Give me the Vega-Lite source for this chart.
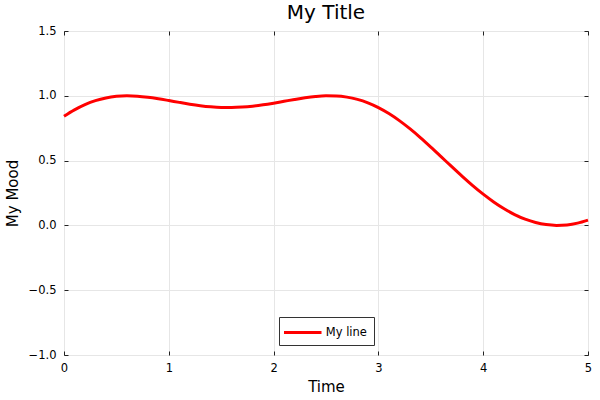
{
  "$schema": "https://vega.github.io/schema/vega-lite/v6.json",
  "width": 524,
  "height": 324,
  "autosize": {"type": "none"},
  "padding": {"left": 64, "top": 31, "right": 12, "bottom": 45},
  "background": "white",
  "title": {
    "text": "My Title",
    "font": "DejaVu Sans",
    "fontSize": 20,
    "fontWeight": "normal",
    "color": "#000",
    "anchor": "middle",
    "frame": "group",
    "offset": 2
  },
  "config": {
    "view": {"stroke": "#222", "strokeWidth": 1},
    "axis": {
      "domain": false,
      "tickSize": -4,
      "tickColor": "#222",
      "gridColor": "#e6e6e6",
      "labelFlush": false,
      "labelFont": "DejaVu Sans",
      "labelFontSize": 11.5,
      "labelColor": "#000",
      "titleFont": "DejaVu Sans",
      "titleFontSize": 15,
      "titleFontWeight": "normal",
      "titleColor": "#000"
    }
  },
  "data": {
    "values": [
      {"t": 0.0, "mood": 0.84147}, {"t": 0.1, "mood": 0.89113}, {"t": 0.2, "mood": 0.93156},
      {"t": 0.3, "mood": 0.96236}, {"t": 0.4, "mood": 0.98359}, {"t": 0.5, "mood": 0.99582},
      {"t": 0.6, "mood": 0.99998}, {"t": 0.7, "mood": 0.9973}, {"t": 0.8, "mood": 0.98928},
      {"t": 0.9, "mood": 0.9775}, {"t": 1.0, "mood": 0.96359}, {"t": 1.1, "mood": 0.94911},
      {"t": 1.2, "mood": 0.93546}, {"t": 1.3, "mood": 0.92386}, {"t": 1.4, "mood": 0.91526},
      {"t": 1.5, "mood": 0.91034}, {"t": 1.6, "mood": 0.90948}, {"t": 1.7, "mood": 0.91274},
      {"t": 1.8, "mood": 0.91987}, {"t": 1.9, "mood": 0.93033}, {"t": 2.0, "mood": 0.94326},
      {"t": 2.1, "mood": 0.95755}, {"t": 2.2, "mood": 0.97188}, {"t": 2.3, "mood": 0.98474},
      {"t": 2.4, "mood": 0.99453}, {"t": 2.5, "mood": 0.99962}, {"t": 2.6, "mood": 0.99847},
      {"t": 2.7, "mood": 0.98973}, {"t": 2.8, "mood": 0.97233}, {"t": 2.9, "mood": 0.94554},
      {"t": 3.0, "mood": 0.9091}, {"t": 3.1, "mood": 0.8632}, {"t": 3.2, "mood": 0.80852},
      {"t": 3.3, "mood": 0.74614}, {"t": 3.4, "mood": 0.67758}, {"t": 3.5, "mood": 0.60457},
      {"t": 3.6, "mood": 0.52905}, {"t": 3.7, "mood": 0.45303}, {"t": 3.8, "mood": 0.37847},
      {"t": 3.9, "mood": 0.30718}, {"t": 4.0, "mood": 0.24081}, {"t": 4.1, "mood": 0.18072},
      {"t": 4.2, "mood": 0.12807}, {"t": 4.3, "mood": 0.08373}, {"t": 4.4, "mood": 0.04838},
      {"t": 4.5, "mood": 0.02247}, {"t": 4.6, "mood": 0.00631}, {"t": 4.7, "mood": 0.00008},
      {"t": 4.8, "mood": 0.00384}, {"t": 4.9, "mood": 0.01755}, {"t": 5.0, "mood": 0.04107}
    ]
  },
  "layer": [
    {
      "mark": {"type": "line", "strokeWidth": 3, "interpolate": "monotone"},
      "encoding": {
        "x": {
          "field": "t",
          "type": "quantitative",
          "scale": {"domain": [0, 5], "nice": false, "zero": false},
          "axis": {
            "title": "Time",
            "values": [0, 1, 2, 3, 4, 5],
            "format": "d",
            "labelBaseline": "alphabetic",
            "labelPadding": 20,
            "titleX": 262,
            "titleY": 36,
            "titleBaseline": "alphabetic"
          }
        },
        "y": {
          "field": "mood",
          "type": "quantitative",
          "scale": {"domain": [-1, 1.5], "nice": false, "zero": false},
          "axis": {
            "title": "My Mood",
            "values": [-1, -0.5, 0, 0.5, 1, 1.5],
            "format": ".1f",
            "labelPadding": 12,
            "titleX": -47,
            "titleY": 162,
            "titleBaseline": "alphabetic"
          }
        },
        "color": {
          "datum": "My line",
          "type": "nominal",
          "scale": {"range": ["#ff0000"]},
          "legend": {
            "title": null,
            "orient": "none",
            "legendX": 215,
            "legendY": 286,
            "symbolType": "M-2.5,0H2.5",
            "symbolSize": 225,
            "symbolStrokeWidth": 3,
            "symbolOffset": 8.25,
            "labelOffset": 14,
            "labelFont": "DejaVu Sans",
            "labelFontSize": 11.5,
            "labelColor": "#000",
            "padding": 6.5,
            "strokeColor": "#333",
            "fillColor": "white",
            "cornerRadius": 0
          }
        }
      }
    },
    {
      "mark": {"type": "line", "opacity": 0},
      "encoding": {
        "x": {
          "field": "t",
          "type": "quantitative",
          "axis": {"orient": "top", "title": null, "labels": false, "grid": false, "values": [0, 1, 2, 3, 4, 5]}
        },
        "y": {
          "field": "mood",
          "type": "quantitative",
          "axis": {"orient": "right", "title": null, "labels": false, "grid": false, "values": [-1, -0.5, 0, 0.5, 1, 1.5]}
        }
      }
    }
  ],
  "resolve": {"axis": {"x": "independent", "y": "independent"}}
}
